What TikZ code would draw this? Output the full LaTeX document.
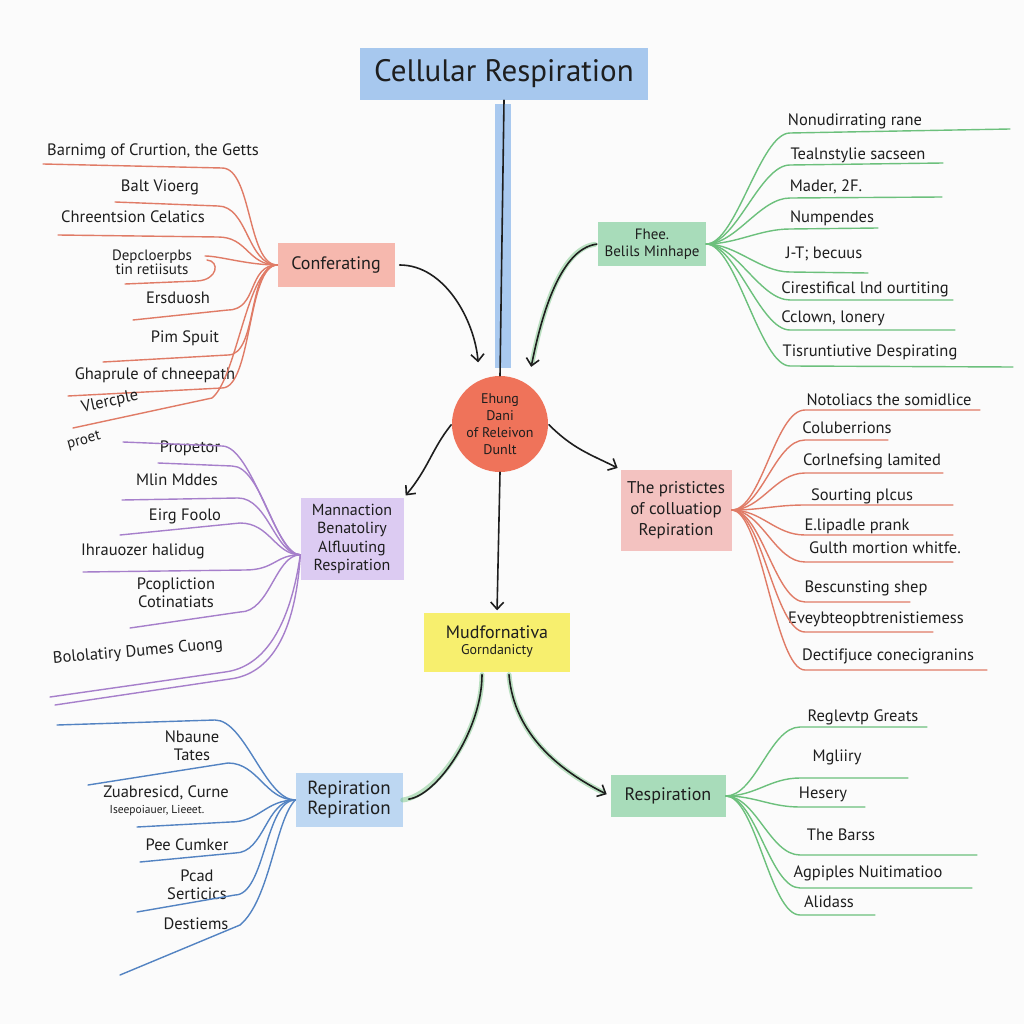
\documentclass[tikz,border=0pt]{standalone}
\usepackage{fontspec}
\setmainfont{PT Sans}
\usetikzlibrary{arrows.meta,calc}
\definecolor{ink}{HTML}{1E1E1E}
\definecolor{bgc}{HTML}{FBFBFB}
\definecolor{tblue}{HTML}{A7C8EE}
\definecolor{bandblue}{HTML}{A9C9EF}
\definecolor{coral}{HTML}{EF735A}
\definecolor{pinkA}{HTML}{F6B8AE}
\definecolor{pinkB}{HTML}{F3C2C0}
\definecolor{mint}{HTML}{A8DCBA}
\definecolor{lilac}{HTML}{DCCBF2}
\definecolor{lemon}{HTML}{F7EF6E}
\definecolor{skyb}{HTML}{BDD7F2}
\definecolor{redl}{HTML}{E07B66}
\definecolor{greenl}{HTML}{6CC07C}
\definecolor{purpl}{HTML}{A67FCB}
\definecolor{bluel}{HTML}{5383C2}
\begin{document}
\begin{tikzpicture}[x=1pt,y=-1pt,
  lbl/.style={font=\fontsize{16.5}{18}\selectfont,text=ink,align=center,inner sep=0pt},
  sml/.style={font=\fontsize{15}{14}\selectfont,text=ink,align=center,inner sep=0pt},
  boxn/.style={text=ink,align=center,inner sep=0pt},
  br/.style={line width=1.4pt,line cap=round},
  conn/.style={line width=1.6pt,draw=ink,line cap=round},
  arr/.style={conn,-{Straight Barb[length=7pt,width=13pt,line width=1.6pt]}},
  shade/.style={line width=5pt,draw=greenl,opacity=0.45,line cap=round}]
\useasboundingbox (0,0) rectangle (1024,1024);
\fill[bgc] (0,0) rectangle (1024,1024);

% ---------- main nodes ----------
\fill[bandblue] (495,104) rectangle (511,368);
\node[boxn,fill=tblue,minimum width=288,minimum height=52,font=\fontsize{31}{34}\selectfont] (title) at (504,74) {Cellular Respiration};
\node[circle,fill=coral,minimum size=96,boxn,font=\fontsize{14}{17}\selectfont] (circ) at (500,424) {Ehung\\Dani\\of Releivon\\Dunlt};
\node[boxn,fill=pinkA,minimum width=117,minimum height=44,font=\fontsize{18}{20}\selectfont] (conf) at (336,265) {Conferating};
\node[boxn,fill=mint,minimum width=108,minimum height=44,font=\fontsize{15}{17}\selectfont] (fhee) at (652,244) {Fhee.\\Belils Minhape};
\node[boxn,fill=lilac,minimum width=103,minimum height=82,font=\fontsize{16}{18.5}\selectfont] (lil) at (352,539) {Mannaction\\Benatoliry\\Alfluuting\\Respiration};
\node[boxn,fill=pinkB,minimum width=111,minimum height=81,font=\fontsize{17}{21}\selectfont] (prs) at (676,510) {The pristictes\\of colluatiop\\Repiration};
\node[boxn,fill=lemon,minimum width=146,minimum height=59] (yel) at (497,642) {{\fontsize{18}{21}\selectfont Mudfornativa}\\[4pt]{\fontsize{14}{16}\selectfont Gorndanicty}};
\node[boxn,fill=skyb,minimum width=107,minimum height=54,font=\fontsize{19}{20}\selectfont] (rep) at (349,800) {Repiration\\Repiration};
\node[boxn,fill=mint,minimum width=115,minimum height=42,font=\fontsize{18}{20}\selectfont] (resp) at (668,796) {Respiration};

% ---------- main connectors ----------
\draw[conn] (title.south) -- (circ.north);
\draw[arr,shorten <=5pt,shorten >=18pt] (conf.east) .. controls +(50,0) and +(-5,-60) .. (circ.115);
\draw[shade,xshift=3pt,shorten <=3pt,shorten >=22pt] (fhee.west) .. controls +(-40,5) and +(12,-60) .. (circ.55);
\draw[arr,shorten <=1pt,shorten >=18pt] (fhee.west) .. controls +(-40,5) and +(12,-60) .. (circ.55);
\draw[arr,shorten <=1pt,shorten >=3pt] (circ.west) .. controls +(-20,25) and +(25,-30) .. (lil.north east);
\draw[arr,shorten <=1pt,shorten >=3pt] (circ.east) .. controls +(25,25) and +(-30,-15) .. (prs.north west);
\draw[arr,shorten >=2pt] (circ.south) -- (yel.north);
\coordinate (ys1) at ($(yel.south)+(-15,3)$);
\coordinate (ys2) at ($(yel.south)+(12,3)$);
\draw[shade,xshift=3pt] (ys1) .. controls +(0,55) and +(35,-5) .. (rep.east);
\draw[conn,shorten >=6pt] (ys1) .. controls +(0,55) and +(35,-5) .. (rep.east);
\draw[shade,xshift=-3pt,yshift=2pt,shorten >=8pt] (ys2) .. controls +(5,60) and +(-50,-25) .. (resp.west);
\draw[arr,shorten >=4pt] (ys2) .. controls +(5,60) and +(-50,-25) .. (resp.west);

% ---------- top-left branch (red) ----------
\foreach \px/\py/\txt/\fx/\fy/\mx/\my [count=\i] in {
  153/151/{Barnimg of Crurtion, the Getts}/43/164/222/168,
  160/187/{Balt Vioerg}/115/202/218/206,
  133/217/{Chreentsion Celatics}/58/235/218/237,
  178/298/{Ersduosh}/133/320/228/310,
  185/338/{Pim Spuit}/103/362/228/355,
  155/375/{Ghaprule of chneepath}/68/396/222/388}
{
  \node[lbl] (tl\i) at (\px,\py) {\txt};
  \coordinate (tle\i) at (\fx,\fy);
  \draw[br,redl] (conf.west) .. controls +(-30,0) and +(30,0) .. (\mx,\my) -- (tle\i);
}
\node[sml] (tl7) at (152,262) {Depcloerpbs\\tin retiisuts};
\coordinate (tle7) at (205,256);
\draw[br,redl] (conf.west) .. controls +(-30,0) and +(15,0) .. (tle7);
\draw[br,redl] (125,284) -- (197,281) .. controls (218,280) and (220,261) .. (207,260);
\node[lbl,rotate=12] (tl8) at (110,402) {Vlercple};
\node[sml,rotate=15] (tl9) at (84,441) {proet};
\coordinate (tle8) at (73,428);
\draw[br,redl] (conf.west) .. controls +(-30,0) and +(25,-20) .. (212,398) -- (tle8);

% ---------- top-right branch (green) ----------
\foreach \px/\py/\txt/\fx/\fy/\my [count=\i] in {
  855/121/{Nonudirrating rane}/1010/129/133,
  858/155/{Tealnstylie sacseen}/943/163/165,
  826/187/{Mader, 2F.}/942/197/198,
  832/218/{Numpendes}/878/228/229,
  824/254/{J-T; becuus}/868/273/272,
  865/289/{Cirestifical lnd ourtiting}/953/300/300,
  833/318/{Cclown, lonery}/955/330/330,
  870/352/{Tisruntiutive Despirating}/1013/367/366}
{
  \node[lbl] (tr\i) at (\px,\py) {\txt};
  \coordinate (tre\i) at (\fx,\fy);
  \draw[br,greenl] (fhee.east) .. controls +(30,0) and +(-30,0) .. (790,\my) -- (tre\i);
}

% ---------- right-middle branch (red) ----------
\foreach \px/\py/\txt/\fx/\fy [count=\i] in {
  889/400/{Notoliacs the somidlice}/980/410,
  847/428/{Coluberrions}/888/440,
  872/461/{Corlnefsing lamited}/943/473,
  862/496/{Sourting plcus}/953/505,
  857/526/{E.lipadle prank}/953/535,
  885/548/{Gulth mortion whitfe.}/953/562,
  866/588/{Bescunsting shep}/910/602,
  876/619/{Eveybteopbtrenistiemess}/933/632,
  888/656/{Dectifjuce conecigranins}/987/670}
{
  \node[lbl] (rm\i) at (\px,\py) {\txt};
  \coordinate (rme\i) at (\fx,\fy);
  \draw[br,redl] (prs.east) .. controls +(30,0) and +(-30,0) .. (805,\fy) -- (rme\i);
}

% ---------- left-middle branch (purple) ----------
\foreach \px/\py/\txt [count=\i] in {
  190/448/{Propetor},
  177/480/{Mlin Mddes},
  185/516/{Eirg Foolo},
  143/551/{Ihrauozer halidug},
  176/593/{Pcopliction\\Cotinatiats}}
{
  \node[lbl] (pl\i) at (\px,\py) {\txt};
}
\node[lbl,rotate=5] (pl6) at (138,652) {Bololatiry Dumes Cuong};
\foreach \fx/\fy/\mx/\my [count=\i] in {
  123/442/222/446, 158/463/232/466, 122/500/238/498,
  120/535/240/523, 83/572/245/570, 130/628/240/612}
{
  \coordinate (pe\i) at (\fx,\fy);
  \draw[br,purpl] (lil.197) .. controls +(-25,0) and +(30,0) .. (\mx,\my) -- (pe\i);
}
\coordinate (pe7) at (50,697);
\coordinate (pe8) at (55,705);
\draw[br,purpl] (lil.197) .. controls +(-10,70) and +(40,-5) .. (225,672) -- (pe7);
\draw[br,purpl] (lil.197) .. controls +(-5,80) and +(40,-5) .. (230,679) -- (pe8);

% ---------- bottom-left branch (blue) ----------
\node[lbl] (bl1) at (192,746) {Nbaune\\Tates};
\node[lbl] (bl2) at (166,793) {Zuabresicd, Curne};
\node[font=\fontsize{11.5}{12}\selectfont,text=ink,inner sep=0pt] (bl3) at (157,811) {Iseepoiauer, Lieeet.};
\node[lbl] (bl4) at (187,845) {Pee Cumker};
\node[lbl] (bl5) at (197,885) {Pcad\\Serticics};
\node[lbl] (bl6) at (196,924) {Destiems};
\foreach \fx/\fy/\mx/\my [count=\i] in {
  57/725/215/720, 88/785/228/763, 137/827/230/822,
  140/862/235/853, 137/912/235/895}
{
  \coordinate (be\i) at (\fx,\fy);
  \draw[br,bluel] (rep.west) .. controls +(-30,0) and +(30,0) .. (\mx,\my) -- (be\i);
}
\coordinate (be6) at (120,975);
\draw[br,bluel] (rep.west) .. controls +(-20,20) and +(30,-25) .. (240,925) -- (be6);

% ---------- bottom-right branch (green) ----------
\foreach \px/\py/\txt/\fx/\fy [count=\i] in {
  863/717/{Reglevtp Greats}/927/727,
  837/757/{Mgliiry}/908/778,
  823/794/{Hesery}/865/807,
  841/835/{The Barss}/977/855,
  868/873/{Agpiples Nuitimatioo}/972/888,
  829/902/{Alidass}/875/915}
{
  \node[lbl] (br\i) at (\px,\py) {\txt};
  \coordinate (bre\i) at (\fx,\fy);
  \draw[br,greenl] (resp.east) .. controls +(30,0) and +(-30,0) .. (800,\fy) -- (bre\i);
}
\end{tikzpicture}
\end{document}
